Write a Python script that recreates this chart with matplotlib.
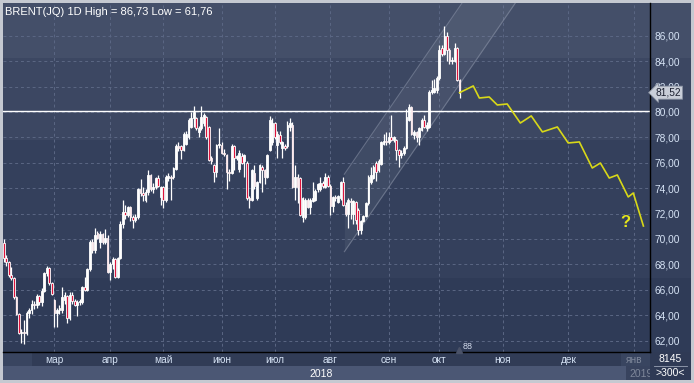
import matplotlib
matplotlib.use("Agg")
import matplotlib.pyplot as plt
import numpy as np

plt.rcParams['font.family'] = ['Liberation Sans', 'DejaVu Sans']

# ---- daily candles, Feb 1 .. Oct 11 2018 (one value per trading day) ----
opens = [69.7, 68.5, 68.2, 67.2, 66.9, 65.4, 64.1, 62.6, 62.7, 62.6,
         64.2, 64.4, 64.9, 64.8, 65.5, 65.0, 65.9, 67.3, 67.7, 66.5,
         65.2, 64.2, 64.4, 64.4, 65.2, 65.5, 63.8, 65.6, 65.1, 64.8,
         65.0, 65.0, 66.2, 66.0, 67.6, 69.8, 69.1, 70.5, 69.8, 70.4,
         69.8, 70.1, 67.4, 68.0, 68.4, 67.0, 68.5, 71.2, 72.1, 71.9,
         72.5, 71.7, 71.5, 71.7, 73.9, 73.6, 73.1, 73.7, 75.0, 73.9,
         74.1, 74.8, 73.3, 74.1, 73.1, 74.8, 74.9, 74.9, 75.5, 77.3,
         77.3, 77.0, 77.5, 78.0, 78.8, 79.5, 79.5, 78.4, 78.7, 79.1,
         79.6, 78.8, 76.4, 75.8, 75.3, 77.4, 77.4, 76.8, 76.6, 75.3,
         75.2, 77.3, 76.4, 75.5, 76.5, 76.1, 76.0, 73.2, 73.1, 75.2,
         73.2, 74.5, 75.7, 75.4, 74.9, 77.0, 77.6, 79.1, 77.4, 78.2,
         77.2, 77.3, 77.3, 78.8, 79.0, 74.1, 74.9, 74.8, 71.7, 71.7,
         73.1, 72.5, 73.0, 73.1, 73.9, 73.9, 74.4, 74.1, 74.9, 74.2,
         72.6, 73.3, 72.9, 73.2, 74.5, 72.7, 72.0, 73.0, 72.0, 72.9,
         72.3, 70.7, 71.4, 71.8, 72.8, 74.5, 74.8, 76.0, 75.4, 75.9,
         77.5, 77.7, 77.6, 78.0, 77.8, 77.8, 77.0, 76.6, 76.8, 77.2,
         79.4, 80.4, 78.2, 78.4, 78.0, 78.6, 79.4, 78.7, 78.8, 81.6,
         81.6, 81.7, 82.7, 85.0, 84.6, 86.0, 84.9, 84.0, 84.0, 85.0,
         82.5]
highs = [70.0, 68.7, 68.3, 67.8, 67.0, 65.5, 64.2, 62.9, 63.6, 64.3,
         64.6, 65.2, 65.1, 65.7, 65.6, 66.1, 67.4, 67.9, 67.8, 66.6,
         65.3, 64.6, 64.8, 66.2, 65.8, 65.6, 65.8, 65.8, 65.3, 65.2,
         65.3, 66.3, 67.0, 67.7, 69.9, 70.0, 70.9, 70.6, 70.6, 70.5,
         70.8, 70.3, 68.2, 68.6, 68.5, 68.6, 71.4, 73.1, 72.7, 72.6,
         72.6, 71.9, 72.0, 74.0, 74.7, 74.1, 73.9, 75.4, 75.1, 74.4,
         74.9, 75.0, 74.2, 74.2, 75.0, 75.2, 75.0, 75.7, 77.5, 77.6,
         77.4, 78.4, 78.5, 79.5, 80.0, 80.5, 79.6, 78.9, 80.5, 79.9,
         79.7, 78.9, 76.5, 75.9, 77.5, 78.7, 77.6, 77.1, 76.7, 75.5,
         77.5, 77.4, 76.6, 77.0, 76.8, 76.7, 76.1, 73.4, 75.5, 75.8,
         74.6, 75.9, 75.8, 75.5, 76.7, 79.7, 79.5, 79.2, 78.5, 78.5,
         77.7, 77.5, 79.3, 79.5, 79.2, 75.8, 75.1, 74.9, 73.3, 73.2,
         73.2, 73.2, 74.5, 73.9, 74.4, 74.9, 74.6, 75.2, 75.0, 74.3,
         73.4, 73.5, 73.5, 74.6, 74.9, 72.9, 73.2, 73.2, 73.1, 73.0,
         72.4, 71.5, 71.9, 72.9, 75.0, 75.7, 75.8, 76.1, 76.3, 77.7,
         78.3, 78.4, 78.4, 79.8, 78.1, 77.9, 77.1, 77.0, 77.3, 80.2,
         80.6, 80.5, 78.6, 78.5, 78.8, 79.5, 79.8, 79.2, 81.7, 82.5,
         82.6, 82.8, 85.3, 85.3, 86.73, 86.3, 85.0, 84.3, 85.4, 85.1,
         82.6]
lows = [68.2, 67.9, 67.0, 66.8, 65.3, 64.0, 62.5, 61.8, 61.76, 62.4,
        63.8, 64.1, 64.5, 64.6, 64.8, 64.7, 65.8, 67.1, 66.4, 65.6,
        63.1, 63.1, 64.1, 64.2, 64.9, 63.4, 63.6, 64.9, 64.7, 63.9,
        64.8, 64.9, 65.9, 65.9, 67.5, 68.9, 68.9, 70.0, 69.3, 69.6,
        69.6, 67.3, 66.8, 67.6, 66.9, 66.9, 68.4, 70.9, 71.6, 71.7,
        71.4, 70.9, 71.3, 71.6, 73.4, 73.0, 72.9, 73.5, 73.8, 73.6,
        73.9, 74.1, 72.7, 72.4, 72.9, 74.6, 73.1, 74.7, 75.4, 76.9,
        76.3, 76.9, 77.4, 77.9, 78.7, 78.8, 78.6, 78.0, 78.6, 78.9,
        77.9, 76.1, 75.9, 74.5, 74.9, 77.2, 76.7, 76.5, 73.9, 74.6,
        75.1, 75.4, 76.2, 75.3, 75.9, 74.9, 73.1, 72.4, 73.0, 73.9,
        73.1, 74.4, 73.7, 74.3, 74.8, 76.9, 77.4, 77.9, 76.4, 77.5,
        76.4, 77.0, 77.2, 78.5, 74.0, 73.1, 72.8, 71.8, 71.3, 71.6,
        72.4, 72.0, 72.9, 73.0, 73.7, 73.8, 74.0, 74.0, 74.1, 71.9,
        72.1, 73.0, 72.8, 73.1, 72.6, 71.8, 70.9, 71.6, 71.2, 71.2,
        70.3, 70.4, 71.3, 71.7, 72.7, 74.3, 74.7, 74.6, 75.3, 75.8,
        77.4, 77.4, 77.5, 77.7, 77.6, 76.2, 75.7, 76.4, 76.6, 77.1,
        79.3, 78.2, 77.9, 77.6, 77.4, 78.5, 78.7, 78.5, 78.7, 81.4,
        81.5, 81.5, 82.5, 84.4, 84.5, 84.0, 83.8, 83.8, 83.9, 82.4,
        81.1]
closes = [68.5, 68.2, 67.2, 66.9, 65.4, 64.1, 62.6, 62.7, 62.6, 64.2,
          64.4, 64.9, 64.8, 65.5, 65.0, 65.9, 67.3, 67.7, 66.5, 65.7,
          64.2, 64.4, 64.6, 65.4, 65.6, 63.8, 65.6, 65.1, 64.8, 65.0,
          65.1, 66.2, 66.0, 67.6, 69.8, 69.1, 70.3, 70.1, 70.4, 69.8,
          70.1, 67.4, 68.0, 68.4, 67.0, 68.5, 71.2, 72.1, 71.9, 72.5,
          71.7, 71.5, 71.7, 73.9, 73.6, 73.5, 73.7, 75.0, 73.9, 74.1,
          74.8, 74.2, 74.1, 73.1, 74.9, 74.95, 74.8, 75.6, 77.3, 77.2,
          77.0, 78.3, 78.3, 79.4, 79.5, 80.0, 78.7, 78.7, 79.6, 79.8,
          78.0, 76.2, 76.1, 75.3, 77.4, 77.5, 76.8, 76.7, 75.3, 75.2,
          77.3, 76.4, 76.5, 76.8, 76.0, 76.6, 73.2, 73.1, 75.4, 74.2,
          74.5, 75.8, 75.4, 74.9, 76.6, 79.4, 79.1, 78.0, 78.3, 77.6,
          77.6, 77.2, 79.0, 79.1, 74.1, 74.9, 74.1, 71.9, 73.2, 73.1,
          72.5, 73.1, 73.2, 73.8, 74.3, 74.4, 74.2, 74.9, 74.2, 72.6,
          73.3, 73.2, 73.4, 74.5, 72.7, 72.0, 73.1, 72.9, 73.0, 71.5,
          70.7, 71.4, 71.8, 72.8, 74.9, 75.0, 75.7, 75.3, 76.1, 77.6,
          77.7, 77.6, 78.0, 77.8, 78.0, 77.0, 76.6, 76.8, 77.2, 79.6,
          80.4, 78.3, 78.4, 78.0, 78.7, 79.4, 78.8, 79.0, 81.6, 81.7,
          81.9, 82.7, 84.9, 84.6, 86.0, 84.9, 84.0, 84.1, 85.0, 82.5,
          81.52]

# month labels and the trading-day index where each month starts
month_labels = ["мар", "апр", "май", "июн", "июл", "авг", "сен", "окт", "ноя", "дек", "янв"]
month_ticks = [20, 42, 63, 86, 107, 129, 152, 172, 197, 223, 249]
price_ticks = [62, 64, 66, 68, 70, 72, 74, 76, 78, 80, 82, 84, 86]

# yellow forecast path (trading-day index, price)
proj_x = [180, 185.4, 187.8, 191.7, 194.9, 198.8, 204.0, 208.3, 212.7, 218.6,
          222.9, 227.3, 232.4, 235.6, 239.1, 242.3, 246.6, 248.6, 252.6]
proj_y = [81.52, 82.05, 81.10, 81.18, 80.55, 80.63, 79.13, 79.69, 78.43, 78.82,
          77.56, 77.64, 75.59, 75.98, 74.80, 75.04, 73.31, 73.62, 71.02]

level_price = 80.1
last_price = 81.52
chan_start, chan_end = 134.5, 215
chan_low0, chan_high0, chan_slope = 69.0, 75.1, 0.29

W, H = 694, 383
fig = plt.figure(figsize=(W / 100, H / 100), dpi=100, facecolor='#c5c9d1')


def box(x0, y0, x1, y1):
    return [x0 / W, 1 - y1 / H, (x1 - x0) / W, (y1 - y0) / H]


# banded background behind plot + price scale
bg = fig.add_axes(box(3, 3, 691, 352))
bg.set_xlim(0, 1)
bg.set_ylim(352, 3)
for (a, b), col in zip([(3, 58), (58, 140), (140, 278), (278, 352)],
                       ['#444f69', '#3c4762', '#34405c', '#2f3b57']):
    bg.axhspan(a, b, color=col, lw=0)
bg.axis('off')

# bottom bands
mb = fig.add_axes(box(3, 352, 650, 366), facecolor='#394560')
yb = fig.add_axes(box(3, 366, 650, 380), facecolor='#4b5774')
cell = fig.add_axes(box(650, 352, 691, 380), facecolor='#2f3a55')
for a in (mb, yb, cell):
    a.set_xticks([])
    a.set_yticks([])
    for s in a.spines.values():
        s.set_visible(False)
cell.set_xlim(0, 1)
cell.set_ylim(0, 1)
cell.plot([0.1, 0.9], [0.5, 0.5], color='#9aa3b5', lw=0.6)
cell.text(0.5, 0.74, "8145", color='white', fontsize=7.5, ha='center', va='center')
cell.text(0.5, 0.26, ">300<", color='white', fontsize=7.5, ha='center', va='center')
mb.axvspan(0.963, 1.0, color='#2c3650', alpha=0.6, lw=0)
yb.axvspan(0.963, 1.0, color='#2c3650', alpha=0.6, lw=0)
yb.set_xlim(0, 1)
yb.set_ylim(0, 1)
yb.text((321 - 3) / 647, 0.45, "2018", color='white', fontsize=7.5, ha='center', va='center')
yb.text((641 - 3) / 647, 0.45, "2019", color='#7e879a', fontsize=7.5, ha='center', va='center')

# main price axes
ax = fig.add_axes(box(3, 3, 650, 352))
ax.set_facecolor('none')
ax.set_xlim(-0.3, 255.2)
ax.set_ylim(61.1, 88.58)

for p in price_ticks:
    ax.axhline(p, color='#5b6784', lw=0.7, ls=(0, (3, 3)), zorder=1)
for m in month_ticks:
    ax.axvline(m, color='#5b6784', lw=0.7, ls=(0, (3, 3)), zorder=1)

# rising channel
cx = np.array([chan_start, chan_end])
lo = chan_low0 + chan_slope * (cx - chan_start)
hi = chan_high0 + chan_slope * (cx - chan_start)
ax.fill_between(cx, lo, hi, color='white', alpha=0.06, lw=0, zorder=1.5)
ax.plot(cx, lo, color='#8d96aa', lw=0.8, alpha=0.55, zorder=1.6)
ax.plot(cx, hi, color='#8d96aa', lw=0.8, alpha=0.55, zorder=1.6)

ax.axhline(level_price, color='white', lw=1.0, zorder=2)

# candles
x = np.arange(len(closes))
o = np.array(opens)
c = np.array(closes)
ax.vlines(x, lows, highs, color='white', lw=0.9, zorder=3)
body_lo = np.minimum(o, c)
body_h = np.maximum(np.abs(c - o), 0.06)
fills = np.where(c >= o, 'white', '#dc143c')
ax.bar(x, body_h, bottom=body_lo, width=0.68, color=fills,
       edgecolor='white', linewidth=0.6, zorder=4)

# forecast
ax.plot(proj_x, proj_y, color='#d8d818', lw=1.2, zorder=5)
ax.text(245.4, 71.3, "?", color='#e6e61a', fontsize=12, fontweight='bold',
        ha='center', va='center', zorder=5)

ax.plot([179.6], [61.25], marker='^', ms=5, color='#4a5268', zorder=5, clip_on=False)
ax.text(183.0, 61.55, "88", color='#d4dced', fontsize=6.5, ha='center', va='center', zorder=5)

ax.text(0.003, 0.974, "BRENT(JQ) 1D High = 86,73 Low = 61,76", transform=ax.transAxes,
        color='white', fontsize=8, ha='left', va='center')

# axes styling
for s in ('left', 'top'):
    ax.spines[s].set_visible(False)
ax.spines['right'].set_color('black')
ax.spines['bottom'].set_color('black')
ax.spines['right'].set_linewidth(1.0)
ax.spines['bottom'].set_linewidth(1.0)

ax.yaxis.tick_right()
ax.set_yticks(price_ticks)
ax.set_yticklabels([f"{p:.2f}".replace('.', ',') for p in price_ticks])
ax.tick_params(axis='y', length=0, pad=3, labelsize=7.3, labelcolor='#d6e3f5')
ax.set_xticks(month_ticks)
ax.set_xticklabels(month_labels)
ax.tick_params(axis='x', length=0, pad=2.5, labelsize=7.3, labelcolor='#d6e3f5')
ax.get_xticklabels()[-1].set_color('#7e879a')

# last price tag
ax.annotate(f"{last_price:.2f}".replace('.', ','), xy=(1.0, last_price),
            xycoords=('axes fraction', 'data'), xytext=(4, 0), textcoords='offset points',
            color='#1c2030', fontsize=7.3, ha='left', va='center',
            bbox=dict(boxstyle='larrow,pad=0.15', fc='#c9ced8', ec='#8890a0', lw=0.6),
            annotation_clip=False, zorder=6)

fig.savefig("out.png", dpi=100, facecolor=fig.get_facecolor())
